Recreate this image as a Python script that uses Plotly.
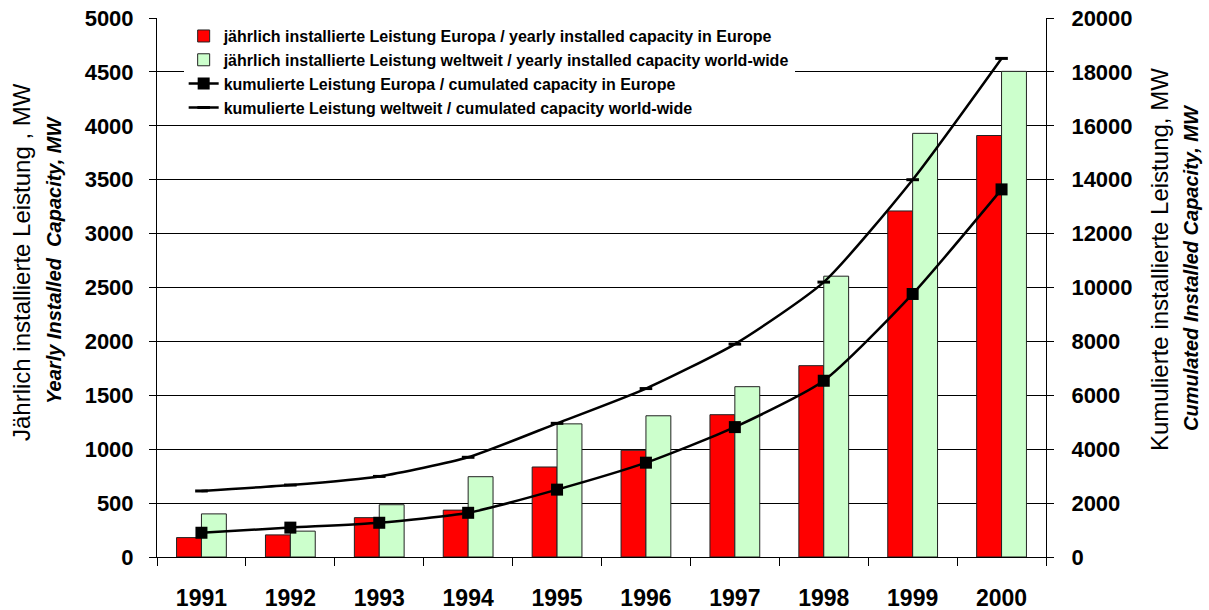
import plotly.graph_objects as go

years = ["1991", "1992", "1993", "1994", "1995", "1996", "1997", "1998", "1999", "2000"]
yearly_europe = [180, 205, 365, 435, 835, 990, 1320, 1775, 3210, 3910]
yearly_world = [400, 240, 485, 745, 1235, 1310, 1580, 2605, 3930, 4505]
cum_europe = [900, 1090, 1270, 1640, 2500, 3500, 4820, 6540, 9760, 13640]
cum_world = [2450, 2670, 2990, 3700, 4960, 6250, 7900, 10200, 14000, 18500]

names = [
    "jährlich installierte Leistung Europa / yearly installed capacity in Europe",
    "jährlich installierte Leistung weltweit / yearly installed capacity world-wide",
    "kumulierte Leistung Europa / cumulated capacity in Europe",
    "kumulierte Leistung weltweit / cumulated capacity world-wide",
]

FONT = "Arial, Liberation Sans, sans-serif"

fig = go.Figure()
fig.add_trace(go.Bar(x=years, y=yearly_europe, name=names[0], legendgroup="a",
                     marker=dict(color="#FF0000", line=dict(color="#222222", width=1))))
fig.add_trace(go.Bar(x=years, y=yearly_world, name=names[1], legendgroup="b",
                     marker=dict(color="#CCFFCC", line=dict(color="#222222", width=1))))
fig.add_trace(go.Scatter(x=years, y=cum_europe, name=names[2], yaxis="y2", legendgroup="c",
                         mode="lines+markers", line=dict(color="black", width=2.5, shape="spline", smoothing=0.6),
                         marker=dict(symbol="square", size=12, color="black")))
fig.add_trace(go.Scatter(x=years, y=cum_world, name=names[3], yaxis="y2", legendgroup="d",
                         mode="lines+markers", line=dict(color="black", width=2.5, shape="spline", smoothing=0.6),
                         marker=dict(symbol="line-ew", size=9, color="black", line=dict(color="black", width=3))))

fig.update_layout(
    width=1209, height=610,
    margin=dict(l=157, r=163, t=18, b=53),
    paper_bgcolor="white", plot_bgcolor="white",
    barmode="group", bargap=0.44, bargroupgap=0,
    font=dict(family=FONT, color="black"),
    showlegend=True,
    legend=dict(x=0.03, y=0.998, xanchor="left", yanchor="top",
                bgcolor="white", borderwidth=0,
                font=dict(family=FONT, size=16, color="black", weight="bold"),
                tracegroupgap=0, itemwidth=30),
    xaxis=dict(type="category", range=[-0.5, 9.5], showline=True, linecolor="black", linewidth=1,
               ticks="outside", tickson="boundaries", ticklen=8, tickcolor="black",
               tickfont=dict(family=FONT, size=23, weight="bold"),
               ticklabelstandoff=20, showgrid=False, automargin=False),
    yaxis=dict(range=[0, 5000], dtick=500, showline=True, linecolor="black", linewidth=1,
               ticks="outside", ticklen=7, tickcolor="black",
               showgrid=True, gridcolor="black", gridwidth=1,
               tickfont=dict(family=FONT, size=22, weight="bold"),
               ticklabelstandoff=11, zeroline=False, automargin=False),
    yaxis2=dict(range=[0, 20000], dtick=2000, overlaying="y", side="right",
                showline=True, linecolor="black", linewidth=1, tickformat="d",
                ticks="outside", ticklen=7, tickcolor="black", showgrid=False,
                tickfont=dict(family=FONT, size=22, weight="bold"),
                ticklabelstandoff=13, zeroline=False, automargin=False),
)

def px_x(p):
    return (p - 157) / 889.0

def px_y(p):
    return (557 - p) / 539.0

annots = [
    dict(text="Jährlich installierte Leistung , MW", x=px_x(21), y=px_y(262), size=24, bold=False),
    dict(text="<i>Yearly Installed  Capacity, MW</i>", x=px_x(54), y=px_y(260), size=20, bold=True),
    dict(text="Kumulierte installierte Leistung, MW", x=px_x(1159), y=px_y(260), size=24, bold=False),
    dict(text="<i>Cumulated Installed Capacity, MW</i>", x=px_x(1191), y=px_y(268), size=20, bold=True),
]
for a in annots:
    fig.add_annotation(text=a["text"], x=a["x"], y=a["y"], xref="paper", yref="paper",
                       xanchor="center", yanchor="middle", textangle=-90, showarrow=False,
                       font=dict(family=FONT, size=a["size"], color="black",
                                 weight="bold" if a["bold"] else "normal"))

fig.write_html("out.html")
